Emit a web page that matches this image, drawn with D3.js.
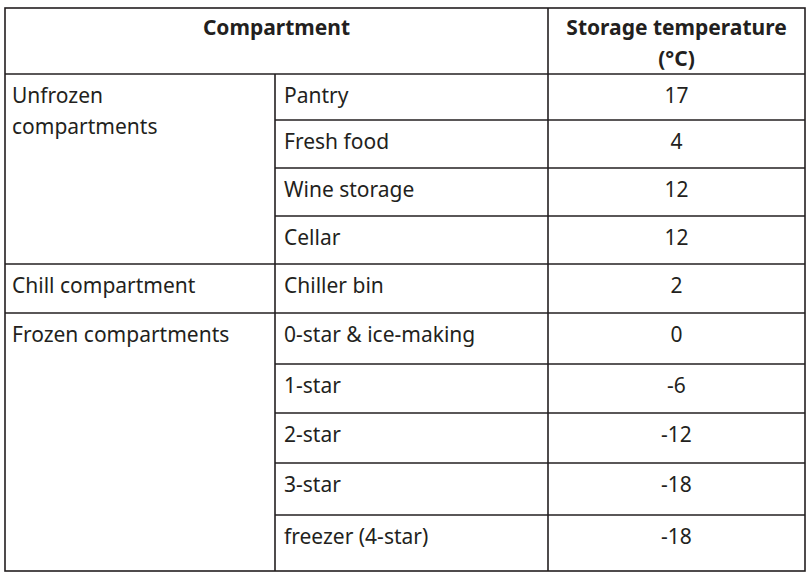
<!DOCTYPE html>
<html>
<head>
<meta charset="UTF-8">
<script src="https://d3js.org/d3.v7.min.js"></script>
<style>
  * { margin: 0; padding: 0; }
  body { background: #fff; font-family: "Noto Sans", sans-serif; }
</style>
</head>
<body>
<div id="chart"></div>
<script>
const groups = ["Unfrozen\ncompartments", "Chill compartment", "Frozen compartments"];
const groupSizes = [4, 1, 5];
const compartments = ["Pantry", "Fresh food", "Wine storage", "Cellar", "Chiller bin",
  "0-star & ice-making", "1-star", "2-star", "3-star", "freezer (4-star)"];
const temps = ["17", "4", "12", "12", "2", "0", "-6", "-12", "-18", "-18"];
const headers = ["Compartment", "Storage temperature\n(°C)"];

// layout
const W = 810, H = 576;
const x0 = 5, x1 = 275, x2 = 548, x3 = 805;
const yTop = 8, yHead = 74;
const rowEdges = [74, 120, 168, 216, 264, 313, 364, 413, 463, 515, 571];
const ink = "#231f20";

const svg = d3.select("#chart").append("svg").attr("width", W).attr("height", H);
const g = svg.append("g");

function line(xa, ya, xb, yb) {
  g.append("line").attr("x1", xa).attr("y1", ya).attr("x2", xb).attr("y2", yb)
    .attr("stroke", ink).attr("stroke-width", 1.6);
}
function text(x, y, s, anchor, bold) {
  const t = g.append("text").attr("x", x).attr("y", y).attr("text-anchor", anchor)
    .attr("font-size", 21).attr("fill", ink).attr("font-weight", bold ? 700 : 400);
  s.split("\n").forEach((p, i) => t.append("tspan").attr("x", x).attr("dy", i ? 31 : 0).text(p));
}

// outer border
g.append("rect").attr("x", x0).attr("y", yTop).attr("width", x3 - x0).attr("height", rowEdges[10] - yTop)
  .attr("fill", "none").attr("stroke", ink).attr("stroke-width", 1.6);
line(x0, yHead, x3, yHead);
line(x2, yTop, x2, rowEdges[10]);
line(x1, yHead, x1, rowEdges[10]);

// headers
text((x0 + x2) / 2, 35, headers[0], "middle", true);
text((x2 + x3) / 2, 35, headers[1], "middle", true);

// compartment rows
compartments.forEach((c, i) => {
  const top = rowEdges[i];
  if (i > 0) line(x1, top, x3, top);
  text(x1 + 9, top + 29, c, "start", false);
  text((x2 + x3) / 2, top + 29, temps[i], "middle", false);
});

// group rows
let idx = 0;
groups.forEach((gr, k) => {
  const top = rowEdges[idx];
  if (k > 0) line(x0, top, x1, top);
  text(x0 + 7, top + 29, gr, "start", false);
  idx += groupSizes[k];
});
</script>
</body>
</html>
